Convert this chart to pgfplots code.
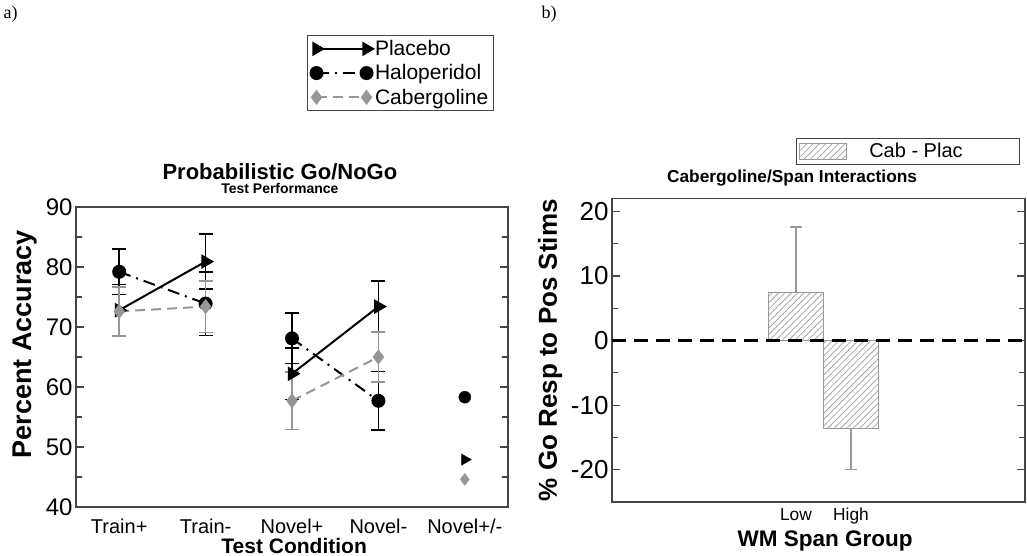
\documentclass[border=0pt]{standalone}
\usepackage{fontspec}
\setmainfont{Liberation Sans}
\newfontfamily\seriffont{Liberation Serif}
\usepackage{pgfplots}
\pgfplotsset{compat=1.18}
\usetikzlibrary{patterns.meta}
\definecolor{cabgray}{RGB}{150,150,150}
\definecolor{axgray}{RGB}{70,70,70}
\pgfplotsset{
  blackerr/.style={error bars/.cd, y dir=both, y explicit,
    error bar style={black, line width=1.5pt, solid},
    error mark options={rotate=90, black, line width=1.5pt, mark size=7pt, solid}},
  grayerr/.style={error bars/.cd, y dir=both, y explicit,
    error bar style={cabgray, line width=1.5pt, solid},
    error mark options={rotate=90, cabgray, line width=1.5pt, mark size=7pt, solid}},
}
\begin{document}
\begin{tikzpicture}[x=1pt,y=1pt]
\useasboundingbox (0pt,0pt) rectangle (1027pt,556pt);
\node[font=\seriffont\fontsize{18}{18}\selectfont, anchor=north west] at (0pt,554pt) {a)};
\node[font=\seriffont\fontsize{18}{18}\selectfont, anchor=north west] at (538pt,554pt) {b)};
% ---------------- left panel ----------------
\begin{axis}[
  at={(76pt,49pt)}, anchor=south west,
  scale only axis, width=432pt, height=300pt,
  xmin=0.5, xmax=5.5, ymin=40, ymax=90,
  xtick={1,2,3,4,5},
  xticklabels={Train+,Train-,Novel+,Novel-,Novel+/-},
  ytick={40,50,60,70,80,90},
  minor ytick={45,55,65,75,85},
  tick align=inside,
  major tick length=8pt, minor tick length=6pt,
  xtick style={draw=none},
  axis line style={line width=1.2pt, axgray},
  ytick style={line width=1.2pt, axgray},
  /pgf/number format/assume math mode=true,
  yticklabel style={font=\fontsize{24}{24}\selectfont},
  xticklabel style={font=\fontsize{20}{20}\selectfont, anchor=base, yshift=-27pt, inner sep=0pt},
  ylabel={Percent Accuracy},
  ylabel style={font=\bfseries\fontsize{27}{27}\selectfont, at={(axis description cs:-0.118,0.543)}, anchor=center},
  xlabel={Test Condition},
  xlabel style={font=\bfseries\fontsize{21}{21}\selectfont, at={(axis description cs:0.505,-0.131)}, anchor=center, inner sep=0pt},
  title={\fontsize{22}{24}\selectfont Probabilistic Go/NoGo\\[2pt]\fontsize{14}{15}\selectfont Test Performance},
  title style={font=\bfseries, align=center, at={(axis description cs:0.472,1)}, anchor=south, yshift=4pt},
  legend style={at={(axis description cs:0.535,1.573)}, anchor=north west,
    draw=axgray, line width=0.8pt, font=\fontsize{21}{21}\selectfont,
    legend cell align=left, row sep=3.5pt, inner sep=3pt},
  legend image code/.code={\draw[#1] plot coordinates {(0pt,0pt) (50pt,0pt)};},
]
% Placebo
\addplot[black, line width=2pt, mark=triangle*, mark size=6.5pt, mark options={rotate=-90, solid}, blackerr]
  coordinates {(1,72.8) +- (0,4.3) (2,80.9) +- (0,4.6)};
\addlegendentry{Placebo}
% Haloperidol
\addplot[black, line width=2pt, dash pattern=on 12pt off 6pt on 2pt off 6pt, mark=*, mark size=6pt, mark options={solid}, blackerr]
  coordinates {(1,79.2) +- (0,3.8) (2,73.9) +- (0,5.3)};
\addlegendentry{Haloperidol}
% Cabergoline
\addplot[cabgray, line width=2pt, dash pattern=on 10pt off 6pt, mark=diamond*, mark size=6pt, mark options={solid}, grayerr]
  coordinates {(1,72.6) +- (0,4.1) (2,73.4) +- (0,4.3)};
\addlegendentry{Cabergoline}
% Novel+ / Novel-
\addplot[forget plot, black, line width=2pt, mark=triangle*, mark size=6.5pt, mark options={rotate=-90, solid}, blackerr]
  coordinates {(3,62.2) +- (0,4.3) (4,73.4) +- (0,4.3)};
\addplot[forget plot, black, line width=2pt, dash pattern=on 12pt off 6pt on 2pt off 6pt, mark=*, mark size=6pt, mark options={solid}, blackerr]
  coordinates {(3,68.1) +- (0,4.2) (4,57.7) +- (0,4.9)};
\addplot[forget plot, cabgray, line width=2pt, dash pattern=on 10pt off 6pt, mark=diamond*, mark size=6pt, mark options={solid}, grayerr]
  coordinates {(3,57.7) +- (0,4.8) (4,65.0) +- (0,4.2)};
% Novel+/-
\addplot[forget plot, only marks, black, mark=triangle*, mark size=6.5pt, mark options={rotate=-90}] coordinates {(5,47.9)};
\addplot[forget plot, only marks, black, mark=*, mark size=6pt] coordinates {(5,58.3)};
\addplot[forget plot, only marks, cabgray, mark=diamond*, mark size=6pt] coordinates {(5,44.6)};
\end{axis}
% ---------------- right panel ----------------
\begin{axis}[
  at={(612pt,54pt)}, anchor=south west,
  scale only axis, width=413pt, height=303.5pt,
  xmin=-2.345, xmax=5.164, ymin=-25, ymax=22,
  xtick={1,2}, xticklabels={Low,High},
  ytick={-20,-10,0,10,20},
  minor ytick={-15,-5,5,15},
  tick align=inside,
  major tick length=8pt, minor tick length=6pt,
  xtick style={draw=none},
  axis line style={line width=1.2pt, axgray},
  ytick style={line width=1.2pt, axgray},
  /pgf/number format/assume math mode=true,
  yticklabel style={font=\fontsize{26}{26}\selectfont},
  xticklabel style={font=\fontsize{17.3}{17.3}\selectfont, anchor=base, yshift=-19pt, inner sep=0pt},
  ylabel={\% Go Resp to Pos Stims},
  ylabel style={font=\bfseries\fontsize{26}{26}\selectfont, at={(axis description cs:-0.150,0.5)}, anchor=center},
  xlabel={WM Span Group},
  xlabel style={font=\bfseries\fontsize{22.5}{22.5}\selectfont, at={(axis description cs:0.516,-0.128)}, anchor=center, inner sep=0pt},
  title={Cabergoline/Span Interactions},
  title style={font=\bfseries\fontsize{17.3}{18}\selectfont, at={(axis description cs:0.436,1)}, anchor=south, yshift=3pt},
  legend style={at={(axis description cs:0.988,1.2)}, anchor=north east,
    draw=axgray, line width=0.8pt, font=\fontsize{20}{20}\selectfont, inner sep=3pt},
  legend image code/.code={\draw[#1] (0pt,-8pt) rectangle (47pt,8pt);},
]
\addplot[ybar, bar width=54.5pt, draw=gray!80, line width=1pt,
  pattern={Lines[angle=45,distance=4.5pt,line width=0.8pt]}, pattern color=gray!70]
  coordinates {(1,7.4) (2,-13.6)};
\addlegendentry{\hspace*{20pt}Cab - Plac\hspace*{52pt}}
\addplot[forget plot, draw=none, mark=none,
  error bars/.cd, y dir=plus, y explicit,
  error bar style={draw=gray!80, line width=1.2pt},
  error mark options={rotate=90, draw=gray!80, line width=1.2pt, mark size=6pt}]
  coordinates {(1,7.4) +- (0,10.2)};
\addplot[forget plot, draw=none, mark=none,
  error bars/.cd, y dir=minus, y explicit,
  error bar style={draw=gray!80, line width=1.2pt},
  error mark options={rotate=90, draw=gray!80, line width=1.2pt, mark size=6pt}]
  coordinates {(2,-13.6) +- (0,6.4)};
\addplot[forget plot, black, line width=2.5pt, dash pattern=on 14pt off 8pt]
  coordinates {(-2.345,0) (5.164,0)};
\end{axis}
\end{tikzpicture}
\end{document}
